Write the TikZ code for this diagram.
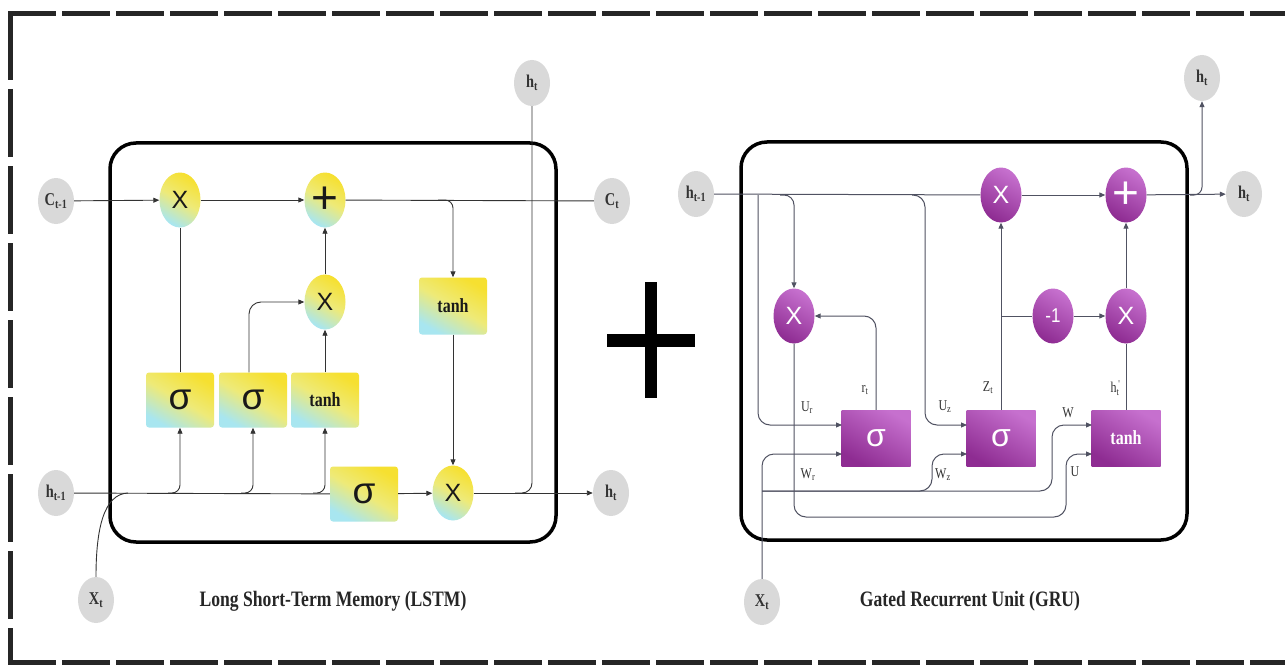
\documentclass[tikz,border=0pt]{standalone}
\usepackage{fontspec}
\setmainfont{Liberation Serif}
\newfontfamily\cfont[FakeStretch=0.8]{Liberation Serif}
\newfontfamily\sfnt{Liberation Sans}
\newfontfamily\sfntc[FakeStretch=0.85]{Liberation Sans}
\usetikzlibrary{arrows.meta,shapes.geometric}
\definecolor{ytop}{HTML}{F6E030}
\definecolor{ymid}{HTML}{EEEA78}
\definecolor{ybot}{HTML}{A8E6F0}
\definecolor{ptop}{HTML}{C670CE}
\definecolor{pbot}{HTML}{8E2C92}
\definecolor{gfill}{HTML}{D9D9D9}
\definecolor{lcol}{HTML}{333333}
\definecolor{gcol}{HTML}{505262}
\tikzset{
  gnode/.style={ellipse, fill=gfill, minimum width=36pt, minimum height=46pt, inner sep=0pt,
    font=\cfont\bfseries\fontsize{18}{18}\selectfont, text=black!80},
  yshade/.style={top color=ytop, bottom color=ybot, middle color=ymid, shading angle=-30},
  pshade/.style={top color=ptop, bottom color=pbot, shading angle=-30},
  ycirc/.style={ellipse, yshade, minimum width=41pt, minimum height=55pt, inner sep=0pt,
    text=black!90, font=\sfnt\fontsize{25}{25}\selectfont},
  yplus/.style={ycirc, font=\sfnt\fontsize{46}{46}\selectfont},
  ybox/.style={rectangle, rounded corners=3pt, yshade, minimum width=68pt, minimum height=55pt, inner sep=0pt},
  ysig/.style={ybox, font=\sfnt\fontsize{37}{37}\selectfont, text=black!90},
  ytanh/.style={ybox, font=\cfont\bfseries\fontsize{20}{20}\selectfont, text=black!90},
  pcirc/.style={ellipse, pshade, minimum width=41pt, minimum height=55pt, inner sep=0pt,
    text=white, font=\sfnt\fontsize{25}{25}\selectfont},
  pplus/.style={pcirc, font=\sfnt\fontsize{46}{46}\selectfont},
  pneg/.style={pcirc, font=\sfntc\fontsize{20}{20}\selectfont},
  pbox/.style={rectangle, pshade, minimum width=69pt, minimum height=56pt, inner sep=0pt, text=white},
  psig/.style={pbox, font=\sfnt\fontsize{32}{32}\selectfont},
  ptanh/.style={pbox, font=\cfont\bfseries\fontsize{20}{20}\selectfont},
  cell/.style={draw=black, line width=3.5pt, rounded corners=26pt},
  ln/.style={draw=lcol, line width=0.9pt},
  gl/.style={draw=gcol, line width=1pt},
  arw/.style={-{Triangle[length=6pt,width=5pt]}},
  lbl/.style={font=\cfont\fontsize{15}{15}\selectfont, text=black!80, inner sep=0pt},
  ttl/.style={font=\cfont\bfseries\fontsize{22}{22}\selectfont, text=black!85},
  frame/.style={draw=black!85, line width=5pt}
}
\begin{document}
\begin{tikzpicture}[x=1pt,y=-1pt]
\useasboundingbox (0,0) rectangle (1285,666);
\fill[white] (0,0) rectangle (1285,666);
% dashed frame
\draw[frame, dash pattern=on 48pt off 6pt] (8,14) -- (1285,14);
\draw[frame, dash pattern=on 48pt off 6pt] (8,662) -- (1285,662);
\draw[frame, dash pattern=on 68pt off 9pt] (10,12) -- (10,664);

% ================= LSTM =================
\draw[cell] (110,143) rectangle (556,542);
\node[gnode] (Cp) at (56,201) {C\textsubscript{t-1}};
\node[gnode] (Ct) at (612,201) {C\textsubscript{t}};
\node[gnode] (htop) at (532,83) {h\textsubscript{t}};
\node[gnode] (hp) at (56,493) {h\textsubscript{t-1}};
\node[gnode] (hr) at (611,493) {h\textsubscript{t}};
\node[gnode] (xt) at (96,600) {X\textsubscript{t}};

\node[ycirc] (f) at (180,200) {X};
\node[yplus] (add) at (325,200) {+};
\node[ycirc] (im) at (325,302) {X};
\node[ytanh, minimum height=57pt] (tr) at (453,306) {tanh};
\node[ysig] (s1) at (180,400) {σ};
\node[ysig] (s2) at (253,400) {σ};
\node[ytanh] (tc) at (325,400) {tanh};
\node[ysig] (so) at (364,494) {σ};
\node[ycirc] (om) at (453,493) {X};

\draw[ln,arw] (Cp) -- (f);
\draw[ln,arw] (f) -- (add);
\draw[ln] (add) -- (Ct);
\draw[ln,arw,rounded corners=8pt] (438,200) -| (tr.north);
\draw[ln] (s1) -- (f);
\draw[ln,arw,rounded corners=12pt] ([xshift=-4pt]s2.north) |- (im.west);
\draw[ln,arw] (tc) -- (im);
\draw[ln,arw] (im) -- (add);
\draw[ln,arw] (tr) -- (om);
\draw[ln] (hp) -- (so);
\draw[ln,arw] (so) -- (om);
\draw[ln,arw] (om) -- (hr);
\draw[ln,rounded corners=10pt] (515,493) -| (htop.south);
\draw[ln,arw,rounded corners=8pt] (168,493) -| (s1.south);
\draw[ln,arw,rounded corners=8pt] (241,493) -| (s2.south);
\draw[ln,arw,rounded corners=8pt] (313,493) -| (tc.south);
\draw[ln] (xt.north) .. controls (96,528) and (104,494) .. (128,493);

\node[ttl] (t1) at (333,601) {Long Short-Term Memory (LSTM)};

% big plus
\draw[line width=12pt] (651,282) -- (651,398);
\draw[line width=13pt] (607,340) -- (695,340);

% ================= GRU =================
\draw[cell] (741,142) rectangle (1187,540);
\node[gnode] (ghp) at (696,194) {h\textsubscript{t-1}};
\node[gnode] (ghr) at (1244,194) {h\textsubscript{t}};
\node[gnode] (ght) at (1202,78) {h\textsubscript{t}};
\node[gnode] (gx) at (762,602) {X\textsubscript{t}};

\node[pcirc] (gxt) at (1001,195) {X};
\node[pplus] (gpl) at (1126,195) {+};
\node[pcirc] (gxl) at (794,316) {X};
\node[pneg] (gm1) at (1053,316) {-1};
\node[pcirc] (gxr) at (1126,316) {X};
\node[psig] (gs1) at (876,438) {σ};
\node[psig] (gs2) at (1001,438) {σ};
\node[ptanh] (gth) at (1126,438) {tanh};

\coordinate (s1a) at (842,425);
\coordinate (s1b) at (842,454);
\coordinate (s2a) at (967,425);
\coordinate (s2b) at (967,454);
\coordinate (ta) at (1092,425);
\coordinate (tb) at (1092,454);

\draw[gl] (ghp) -- (gxt);
\draw[gl,arw] (gxt) -- (gpl);
\draw[gl,arw] (gpl) -- (ghr);
\draw[gl,arw,rounded corners=8pt] (1190,195) -| (ght.south);
\draw[gl,arw,rounded corners=12pt] (758,195) |- (s1a);
\draw[gl,arw,rounded corners=10pt] (780,195) -| (gxl.north);
\draw[gl,arw,rounded corners=12pt] (912,195) -| (925,425) -- (s2a);
\draw[gl,arw,rounded corners=12pt] (gx.north) |- (s1b);
\draw[gl,arw,rounded corners=12pt] (762,491) -| (932,454) -- (s2b);
\draw[gl,arw,rounded corners=12pt] (762,491) -| (1052,425) -- (ta);
\draw[gl,arw,rounded corners=12pt] (gxl.south) |- (1066,517) |- (tb);
\draw[gl,arw,rounded corners=12pt] (gs1.north) |- (gxl.east);
\draw[gl,arw] (gs2) -- (gxt);
\draw[gl] (1001,316) -- (gm1);
\draw[gl,arw] (gm1) -- (gxr);
\draw[gl] (gth) -- (gxr);
\draw[gl,arw] (gxr) -- (gpl);

\node[lbl] (lr) at (865,390) {r\textsubscript{t}};
\node[lbl] (lur) at (807,408) {U\textsubscript{r}};
\node[lbl] (lwr) at (808,475) {W\textsubscript{r}};
\node[lbl] (luz) at (945,407) {U\textsubscript{z}};
\node[lbl] (lz) at (988,388) {Z\textsubscript{t}};
\node[lbl] (lwz) at (943,475) {W\textsubscript{z}};
\node[lbl] (lw) at (1068,413) {W};
\node[lbl] (lu) at (1075,472) {U};
\node[lbl] (lh) at (1115,388) {h\rlap{\textsuperscript{\,'}}\textsubscript{t}};

\node[ttl] (t2) at (970,601) {Gated Recurrent Unit (GRU)};
\end{tikzpicture}
\end{document}
